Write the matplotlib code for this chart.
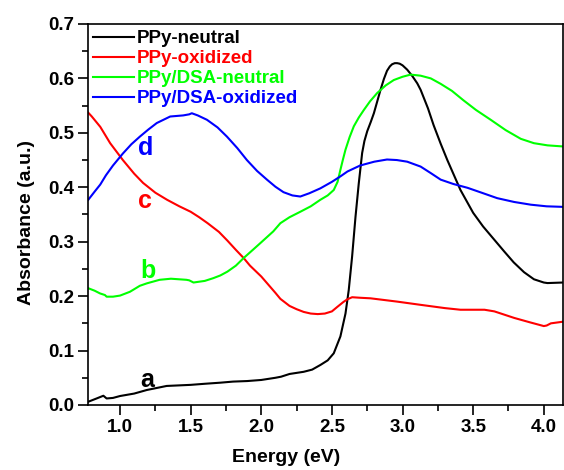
import matplotlib
matplotlib.use("Agg")
import matplotlib.pyplot as plt
from matplotlib.ticker import MultipleLocator

plt.rcParams['font.family'] = ['Liberation Sans', 'DejaVu Sans']
plt.rcParams['font.weight'] = 'bold'

# a: PPy-neutral
x_a = [0.775, 0.834, 0.882, 0.905, 0.95, 1.0, 1.1, 1.19, 1.33, 1.5, 1.6, 1.71, 1.8, 1.9, 2.0,
       2.1, 2.14, 2.2, 2.25, 2.3, 2.36, 2.418, 2.47, 2.513, 2.56, 2.596, 2.619, 2.643, 2.667,
       2.69, 2.714, 2.73, 2.75, 2.775, 2.797, 2.82, 2.844, 2.868, 2.89, 2.91, 2.926, 2.945,
       2.962, 2.98, 3.0, 3.033, 3.07, 3.104, 3.128, 3.18, 3.22, 3.27, 3.317, 3.41, 3.5,
       3.57, 3.645, 3.72, 3.787, 3.86, 3.93, 4.0, 4.026, 4.135]
y_a = [0.006, 0.012, 0.017, 0.012, 0.013, 0.0165, 0.021, 0.0276, 0.035, 0.037, 0.039, 0.041,
       0.043, 0.044, 0.046, 0.05, 0.052, 0.057, 0.059, 0.061, 0.065, 0.0735, 0.082, 0.095,
       0.126, 0.168, 0.211, 0.273, 0.346, 0.407, 0.463, 0.485, 0.503, 0.52, 0.536, 0.557,
       0.579, 0.599, 0.614, 0.622, 0.626, 0.628, 0.628, 0.627, 0.624, 0.616, 0.604, 0.591,
       0.579, 0.545, 0.514, 0.48, 0.45, 0.395, 0.353, 0.328, 0.305, 0.282, 0.262, 0.244,
       0.231, 0.225, 0.224, 0.225]

# c: PPy-oxidized
x_c = [0.775, 0.8, 0.86, 0.93, 1.02, 1.1, 1.163, 1.25, 1.333, 1.42, 1.5, 1.56, 1.62, 1.7,
       1.76, 1.82, 1.875, 1.92, 2.0, 2.04, 2.1, 2.135, 2.2, 2.25, 2.3, 2.35, 2.4, 2.45, 2.5,
       2.537, 2.58, 2.608, 2.643, 2.7, 2.773, 2.96, 3.128, 3.3, 3.41, 3.58, 3.65, 3.72, 3.79,
       3.9, 4.0, 4.02, 4.05, 4.135]
y_c = [0.537, 0.53, 0.511, 0.481, 0.45, 0.425, 0.408, 0.39, 0.377, 0.365, 0.355, 0.345,
       0.334, 0.318, 0.302, 0.285, 0.27, 0.256, 0.236, 0.224, 0.206, 0.195, 0.182, 0.176,
       0.171, 0.168, 0.167, 0.168, 0.172, 0.18, 0.189, 0.194, 0.198, 0.197, 0.196, 0.19,
       0.184, 0.178, 0.175, 0.175, 0.172, 0.166, 0.16, 0.152, 0.145, 0.146, 0.15, 0.153]

# b: PPy/DSA-neutral
x_b = [0.775, 0.82, 0.858, 0.893, 0.905, 0.95, 1.0, 1.07, 1.14, 1.19, 1.28, 1.36, 1.47, 1.49,
       1.52, 1.6, 1.66, 1.71, 1.76, 1.82, 1.875, 1.94, 2.0, 2.085, 2.135, 2.2, 2.276, 2.35,
       2.418, 2.47, 2.513, 2.54, 2.56, 2.578, 2.596, 2.625, 2.655, 2.69, 2.726, 2.77, 2.82,
       2.88, 2.938, 3.0, 3.057, 3.128, 3.2, 3.27, 3.35, 3.43, 3.52, 3.624, 3.73, 3.837, 3.93,
       4.026, 4.135]
y_b = [0.2145, 0.21, 0.205, 0.202, 0.199, 0.199, 0.201, 0.208, 0.219, 0.2235, 0.23, 0.232,
       0.23, 0.229, 0.225, 0.228, 0.233, 0.238, 0.245, 0.256, 0.27, 0.285, 0.299, 0.319,
       0.334, 0.345, 0.355, 0.365, 0.377, 0.385, 0.395, 0.41, 0.432, 0.451, 0.469, 0.492,
       0.512, 0.528, 0.542, 0.558, 0.573, 0.587, 0.597, 0.603, 0.607, 0.605, 0.6, 0.59, 0.577,
       0.56, 0.542, 0.524, 0.505, 0.489, 0.481, 0.477, 0.475]

# d: PPy/DSA-oxidized
x_d = [0.775, 0.82, 0.86, 0.9, 0.95, 1.02, 1.08, 1.14, 1.2, 1.26, 1.355, 1.447, 1.49, 1.508,
       1.55, 1.615, 1.69, 1.757, 1.83, 1.898, 1.97, 2.04, 2.1, 2.157, 2.22, 2.276, 2.34,
       2.418, 2.5, 2.56, 2.61, 2.7, 2.8, 2.89, 2.96, 3.033, 3.128, 3.2, 3.27, 3.36, 3.46,
       3.56, 3.67, 3.79, 3.908, 4.02, 4.135]
y_d = [0.377, 0.392, 0.405, 0.422, 0.44, 0.462, 0.479, 0.493, 0.506, 0.518, 0.53, 0.532,
       0.534, 0.536, 0.532, 0.524, 0.51, 0.493, 0.472, 0.45, 0.43, 0.414, 0.401, 0.391,
       0.385, 0.383, 0.389, 0.398, 0.41, 0.42, 0.429, 0.44, 0.447, 0.451, 0.45, 0.447,
       0.438, 0.426, 0.414, 0.406, 0.399, 0.39, 0.38, 0.373, 0.368, 0.365, 0.364]

fig = plt.figure(figsize=(5.64, 4.70), dpi=100)
ax = fig.add_axes([0.156, 0.1383, 0.842, 0.8107])

ax.plot(x_a, y_a, color='black', lw=1.5, label='PPy-neutral')
ax.plot(x_c, y_c, color='#ff0000', lw=1.5, label='PPy-oxidized')
ax.plot(x_b, y_b, color='#00ff00', lw=1.5, label='PPy/DSA-neutral')
ax.plot(x_d, y_d, color='#0000ff', lw=1.5, label='PPy/DSA-oxidized')

ax.text(1.142, 0.033, 'a', color='black', fontsize=18, fontweight='bold')
ax.text(1.142, 0.2335, 'b', color='#00ff00', fontsize=18, fontweight='bold')
ax.text(1.128, 0.362, 'c', color='#ff0000', fontsize=18, fontweight='bold')
ax.text(1.128, 0.4596, 'd', color='#0000ff', fontsize=18, fontweight='bold')

ax.set_xlim(0.773, 4.135)
ax.set_ylim(0, 0.7)
ax.xaxis.set_major_locator(MultipleLocator(0.5))
ax.xaxis.set_minor_locator(MultipleLocator(0.25))
ax.yaxis.set_major_locator(MultipleLocator(0.1))
ax.yaxis.set_minor_locator(MultipleLocator(0.05))
ax.tick_params(which='both', direction='out', top=False, right=False, width=1.2,
               labelsize=13.5, pad=3)
ax.tick_params(which='major', length=7)
ax.tick_params(which='minor', length=4)
for s in ax.spines.values():
    s.set_linewidth(1.2)

ax.set_xlabel('Energy (eV)', fontsize=14, fontweight='bold')
ax.set_ylabel('Absorbance (a.u.)', fontsize=14, fontweight='bold')
ax.xaxis.set_label_coords(0.417, -0.116)
ax.yaxis.set_label_coords(-0.112, 0.478)

leg = ax.legend(loc='upper left', bbox_to_anchor=(-0.005, 1.004), frameon=False,
                handlelength=2.2, handletextpad=0.14, labelspacing=0.16,
                borderaxespad=0.0, prop={'size': 13.5, 'weight': 'bold'},
                labelcolor='linecolor')

fig.savefig('out.png', dpi=100)
